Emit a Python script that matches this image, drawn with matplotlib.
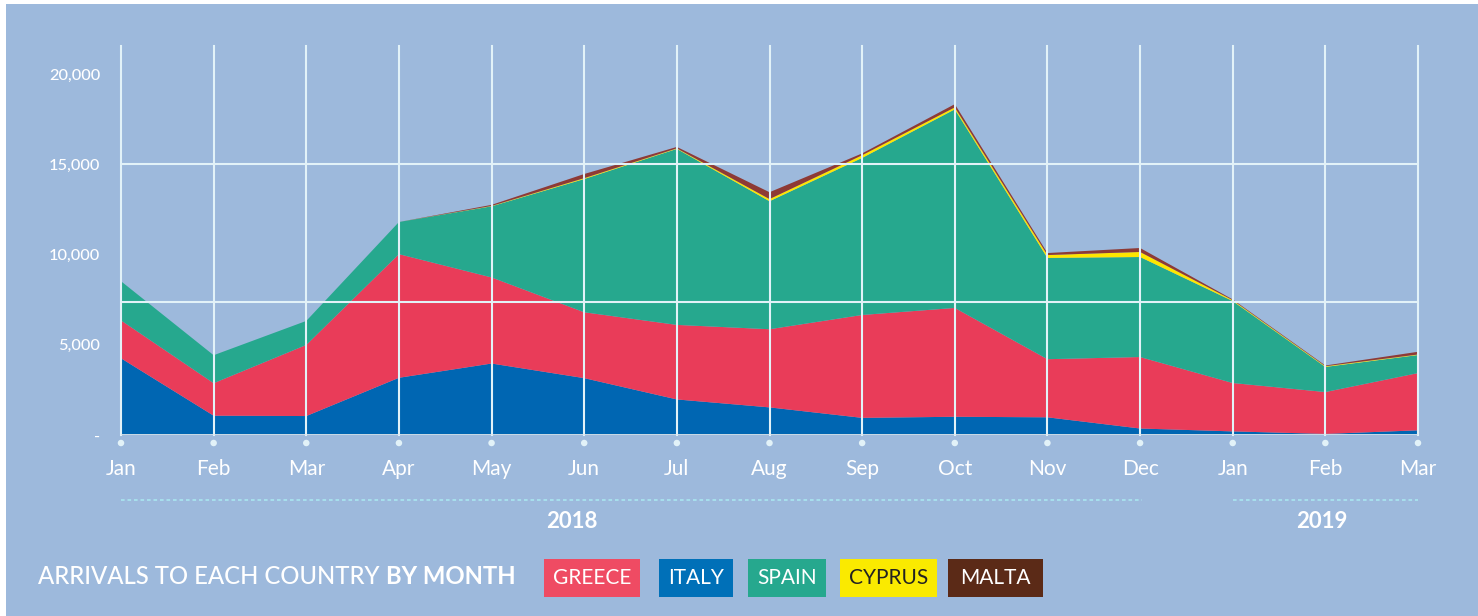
import matplotlib
matplotlib.use("Agg")
import matplotlib.pyplot as plt
from matplotlib.patches import Rectangle
import numpy as np

plt.rcParams['font.family'] = ['Lato', 'DejaVu Sans']

# ---------------- data ----------------
months = ["Jan", "Feb", "Mar", "Apr", "May", "Jun", "Jul", "Aug", "Sep", "Oct",
          "Nov", "Dec", "Jan", "Feb", "Mar"]
italy  = [4250, 1070, 1050, 3170, 3960, 3150, 1970, 1530, 950, 1010, 980, 360, 200, 60, 260]
greece = [2100, 1800, 3940, 6850, 4770, 3650, 4130, 4330, 5700, 6030, 3220, 3960, 2680, 2320, 3170]
spain  = [2170, 1550, 1330, 1780, 3940, 7380, 9750, 7090, 8700, 11000, 5610, 5540, 4540, 1390, 1000]
cyprus = [0, 0, 0, 0, 20, 50, 30, 120, 150, 110, 160, 280, 50, 40, 30]
malta  = [0, 0, 0, 0, 60, 230, 80, 380, 100, 180, 110, 220, 40, 40, 150]
ytick_vals = [0, 5000, 10000, 15000, 20000]
ytick_labels = ["-", "5,000", "10,000", "15,000", "20,000"]
years = ["2018", "2019"]
title_regular = "ARRIVALS TO EACH COUNTRY "
title_bold = "BY MONTH"
legend_names = ["GREECE", "ITALY", "SPAIN", "CYPRUS", "MALTA"]

# ---------------- style ----------------
BG = "#9db9dc"
C_ITALY, C_GREECE, C_SPAIN, C_CYPRUS, C_MALTA = "#0066b2", "#e93c59", "#26a88e", "#ffe600", "#8e3a35"
LEG_COLORS = ["#ef4b63", "#0070b8", "#26a88e", "#faea00", "#5b2a17"]
LEG_TEXT = ["white", "white", "white", "#222222", "white"]
GRID = "#e2f2f8"

W, H = 1478, 616
fig = plt.figure(figsize=(W / 100, H / 100), dpi=100)
fig.patch.set_facecolor("white")
fig.add_artist(Rectangle((6 / W, 0), 1 - 6 / W, 1 - 4 / H, transform=fig.transFigure,
                         facecolor=BG, edgecolor="none", zorder=0))

# axes placement (pixels)
x0, x1 = 121, 1418
y_base, y_top = 435, 46
px_per_unit = 361 / 20000
ymax = (y_base - y_top) / px_per_unit
ax = fig.add_axes([x0 / W, (H - y_base) / H, (x1 - x0) / W, (y_base - y_top) / H])
ax.set_facecolor("none")
n = len(months)
x = np.arange(n)
ax.set_xlim(0, n - 1)
ax.set_ylim(0, ymax)

ax.stackplot(x, italy, greece, spain, cyprus, malta,
             colors=[C_ITALY, C_GREECE, C_SPAIN, C_CYPRUS, C_MALTA], lw=0, zorder=2)

# grid lines
for xi in x:
    ax.plot([xi, xi], [0, ymax], color=GRID, lw=1.5, zorder=3, clip_on=False)
for yv in [7350, 15000]:
    ax.axhline(yv, color=GRID, lw=1.5, zorder=3)
ax.axhline(0, color="#dfe6ec", lw=2, zorder=3)
ax.scatter(x, np.full(n, -8 / px_per_unit), s=22, color=GRID, zorder=4, clip_on=False,
           edgecolors="none")

for s in ax.spines.values():
    s.set_visible(False)

ax.set_yticks(ytick_vals)
ax.set_yticklabels(ytick_labels, fontweight="medium")
ax.tick_params(axis="y", length=0, pad=15, labelcolor="white", labelsize=11.8)
ax.set_xticks(x)
ax.set_xticklabels(months)
ax.tick_params(axis="x", length=0, pad=17, labelcolor="white", labelsize=15)

# year dotted lines and labels
step = (x1 - x0) / (n - 1)
y_dot = -(500 - y_base) / px_per_unit
ax.plot([0, (1142 - x0) / step], [y_dot, y_dot], color="#a9e3ee", lw=1.3,
        ls=(0, (2, 1.6)), clip_on=False)
ax.plot([12, 14], [y_dot, y_dot], color="#a9e3ee", lw=1.3,
        ls=(0, (2, 1.6)), clip_on=False)
y_year = -(521 - y_base) / px_per_unit
ax.text((572 - x0) / step, y_year, years[0], color="white", fontsize=16, fontweight="bold",
        ha="center", va="center", clip_on=False)
ax.text((1322 - x0) / step, y_year, years[1], color="white", fontsize=16, fontweight="bold",
        ha="center", va="center", clip_on=False)

# title
ty = 1 - 576 / H
t1 = fig.text(38 / W, ty, title_regular, color="white", fontsize=17.2, fontweight="medium",
              va="center", ha="left")
fig.canvas.draw()
bb = t1.get_window_extent()
fig.text(bb.x1 / W, ty, title_bold, color="white", fontsize=17.2, fontweight="bold",
         va="center", ha="left")

# legend boxes
box_x = [(544, 640), (659, 733), (748, 826), (840, 937), (948, 1043)]
by0, by1 = 559, 597
for (bx0, bx1), name, c, tc in zip(box_x, legend_names, LEG_COLORS, LEG_TEXT):
    fig.add_artist(Rectangle((bx0 / W, 1 - by1 / H), (bx1 - bx0) / W, (by1 - by0) / H,
                             transform=fig.transFigure, facecolor=c, edgecolor="none"))
    fig.text((bx0 + bx1) / 2 / W, 1 - (by0 + by1) / 2 / H, name, color=tc, fontsize=15,
             ha="center", va="center")

fig.savefig("out.png", dpi=100, facecolor=fig.get_facecolor())
